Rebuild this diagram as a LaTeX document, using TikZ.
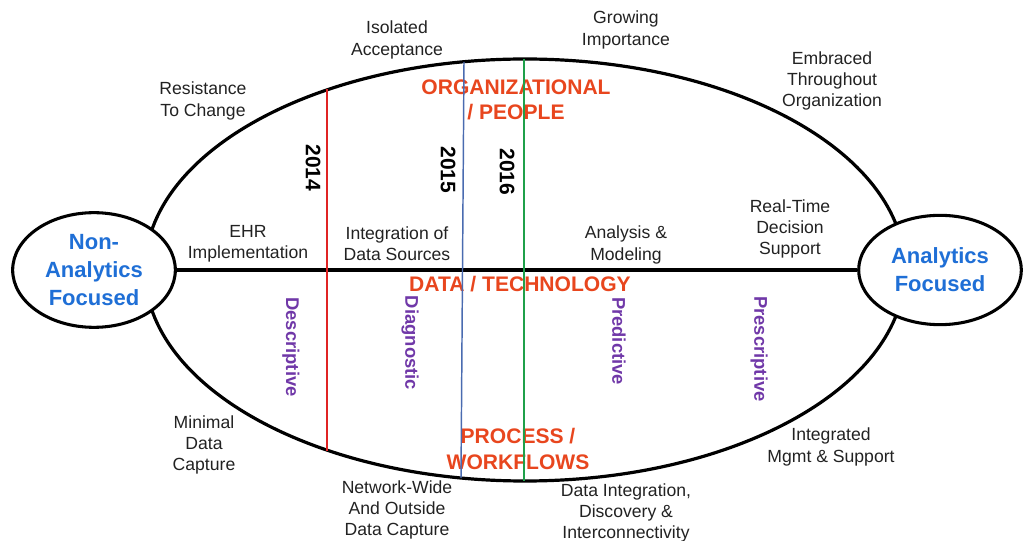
\documentclass[tikz,border=0pt]{standalone}
\usepackage{fontspec}
\setmainfont{Liberation Sans}
\usetikzlibrary{shapes.geometric}
\definecolor{focusblue}{HTML}{1F6FD6}
\definecolor{areaorange}{HTML}{E8461E}
\definecolor{stagepurple}{HTML}{7038A8}
\definecolor{notegray}{HTML}{222222}
\definecolor{yearred}{HTML}{E02424}
\definecolor{yearblue}{HTML}{4A6BB0}
\definecolor{yeargreen}{HTML}{1FA04A}
\begin{document}
\begin{tikzpicture}[x=0.75pt,y=-0.75pt,
  note/.style={align=center,font=\fontsize{13.2}{16}\selectfont,text=notegray,inner sep=0pt},
  area/.style={align=center,font=\bfseries\fontsize{15.8}{19}\selectfont,text=areaorange,inner sep=0pt},
  yearlabel/.style={rotate=-90,font=\bfseries\fontsize{15.75}{18}\selectfont,inner sep=0pt},
  stage/.style={rotate=-90,font=\bfseries\fontsize{13.8}{18}\selectfont,text=stagepurple,inner sep=0pt},
  focusshape/.style={ellipse,draw,line width=2.3pt,fill=white,inner sep=0pt},
  focustext/.style={align=center,text=focusblue,inner sep=0pt,font=\bfseries\fontsize{16.5}{21}\selectfont},
]
\useasboundingbox (0,0) rectangle (1024,541);

% outer maturity ellipse
\draw[line width=2.4pt] (525,270) ellipse [x radius=380, y radius=211];

% end points of the journey
\node[focusshape,minimum width=122pt,minimum height=86pt] (non) at (94,270) {};
\node[focustext] at (non) {Non-\\Analytics\\Focused};
\node[focusshape,minimum width=122pt,minimum height=82pt] (ana) at (940,270) {};
\node[focustext] at (ana) {Analytics\\Focused};

% data / technology axis
\draw[line width=2.4pt] (non.east) -- (ana.west);

% stage notes
\node[note] (n1) at (203,101) {Resistance\\To Change};
\node[note] (n2) at (397,40) {Isolated\\Acceptance};
\node[note] (n3) at (626,30) {Growing\\Importance};
\node[note] (n4) at (832,81) {Embraced\\Throughout\\Organization};
\node[note] (n5) at (248,244) {EHR\\Implementation};
\node[note] (n6) at (397,244) {Integration of\\Data Sources};
\node[note] (n7) at (626,245) {Analysis \&\\Modeling};
\node[note] (n8) at (790,229) {Real-Time\\Decision\\Support};
\node[note] (n9) at (204,445) {Minimal\\Data\\Capture};
\node[note] (n10) at (397,510) {Network-Wide\\And Outside\\Data Capture};
\node[note] (n11) at (626,513) {Data Integration,\\Discovery \&\\Interconnectivity};
\node[note] (n12) at (831,447) {Integrated\\Mgmt \& Support};

% dimensions
\node[area] (org) at (516,100) {ORGANIZATIONAL\\/ PEOPLE};
\node[area] (dat) at (520,284) {DATA / TECHNOLOGY};
\node[area] (pro) at (518,449) {PROCESS /\\WORKFLOWS};

% analytics types
\node[stage] (s1) at (291,347) {Descriptive};
\node[stage] (s2) at (410,343) {Diagnostic};
\node[stage] (s3) at (619,341) {Predictive};
\node[stage] (s4) at (759,349) {Prescriptive};

% yearly position markers
\coordinate (r1) at (327,89);  \coordinate (r2) at (327,451);
\coordinate (b1) at (464,62);  \coordinate (b2) at (461,478);
\coordinate (g1) at (524,59);  \coordinate (g2) at (524,481);
\draw[yearred,line width=1.3pt] (r1) -- (r2);
\draw[yearblue,line width=1.1pt] (b1) -- (b2);
\draw[yeargreen,line width=2.2pt] (g1) -- (g2);

\node[yearlabel] (y1) at (313,168) {2014};
\node[yearlabel] (y2) at (448,170) {2015};
\node[yearlabel] (y3) at (507,172) {2016};
\end{tikzpicture}
\end{document}
